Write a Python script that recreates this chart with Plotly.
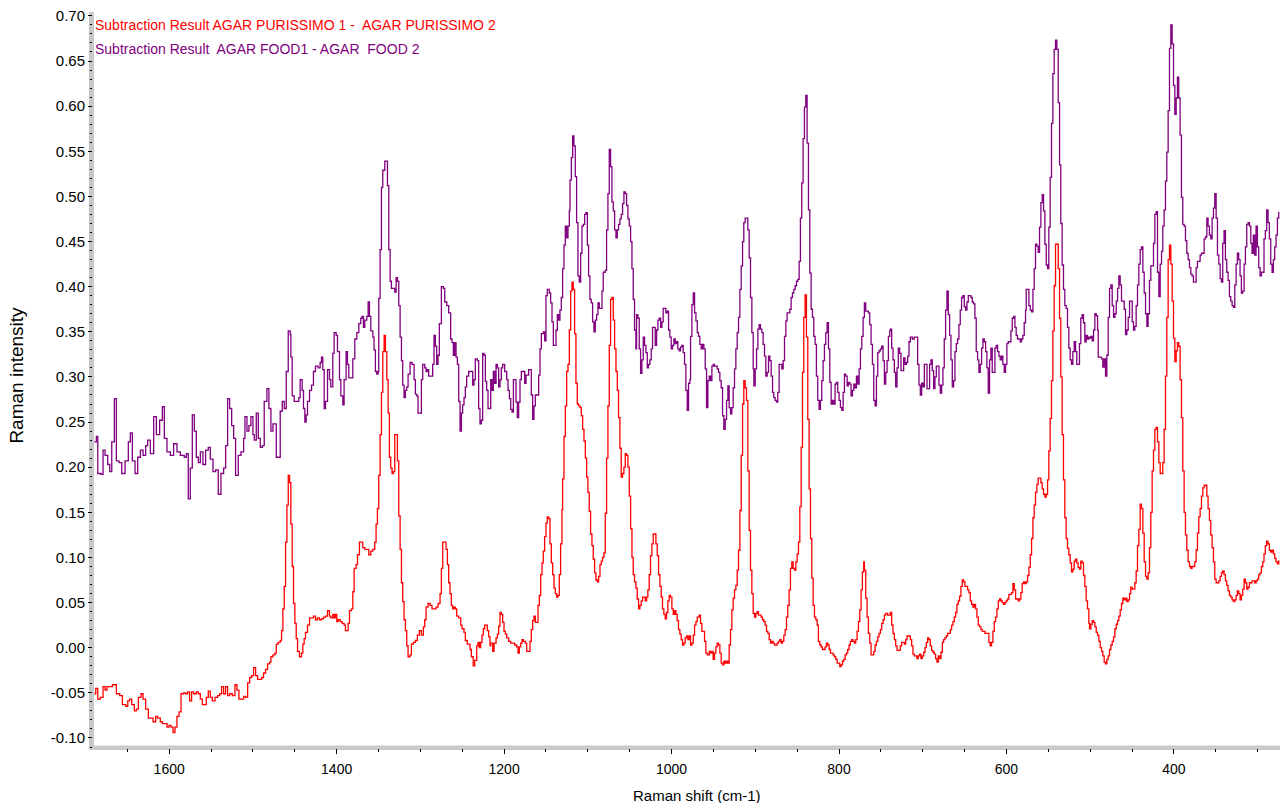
import plotly.graph_objects as go

# Subtraction spectra (Raman shift in cm-1, intensity)
purissimo_shift = [
    1689.3, 1687.7, 1685.3, 1682.2, 1679.0, 1676.6, 1674.2, 1671.0, 1667.8, 1665.5, 1663.1, 1659.1, 1655.9, 1651.9,
    1649.5, 1647.2, 1644.8, 1641.6, 1639.2, 1636.8, 1633.6, 1631.2, 1628.1, 1624.9, 1621.7, 1619.3, 1616.1, 1613.7,
    1610.6, 1608.2, 1605.0, 1602.6, 1600.2, 1597.8, 1595.4, 1593.1, 1590.7, 1588.3, 1585.9, 1582.7, 1580.3, 1577.9,
    1575.6, 1573.2, 1570.8, 1567.6, 1565.2, 1562.8, 1560.4, 1558.1, 1555.7, 1553.3, 1550.9, 1548.5, 1545.3, 1542.2,
    1539.8, 1537.4, 1535.0, 1532.6, 1530.2, 1527.8, 1524.6, 1521.5, 1519.1, 1516.7, 1513.5, 1511.1, 1508.7, 1506.3,
    1503.9, 1501.6, 1499.2, 1496.8, 1494.4, 1492.0, 1489.6, 1487.3, 1484.9, 1482.5, 1480.1, 1478.5, 1476.1, 1473.7,
    1472.1, 1469.7, 1467.4, 1465.8, 1464.2, 1462.6, 1461.0, 1459.4, 1457.8, 1456.2,
    1454.7, 1453.1, 1451.5, 1449.9, 1448.3, 1446.7, 1444.4, 1442.0, 1440.4, 1438.8, 1437.2, 1434.8, 1432.4, 1430.0,
    1427.7, 1425.3, 1422.9, 1420.5, 1418.1, 1415.7, 1413.3, 1410.9, 1408.6, 1407.0, 1404.6, 1403.0, 1401.4, 1399.8,
    1398.2, 1395.8, 1393.4, 1391.1, 1389.5, 1387.9, 1386.3, 1384.7, 1382.3, 1380.7, 1379.1, 1376.7, 1375.1, 1372.8,
    1370.4, 1368.8, 1366.4, 1364.0, 1361.6, 1359.2, 1356.8, 1354.5, 1352.9, 1351.3, 1349.7, 1348.1, 1346.5, 1344.9,
    1343.3, 1341.7, 1340.1, 1338.5, 1337.0, 1335.4, 1333.8, 1332.2, 1330.6, 1329.0, 1327.4, 1325.8, 1324.2, 1322.6,
    1321.1, 1319.5, 1317.9, 1316.3, 1314.7, 1312.3, 1310.7, 1308.3, 1305.9, 1303.6, 1301.2, 1298.8, 1296.4, 1294.8,
    1293.2, 1290.8, 1288.4, 1286.1, 1283.7, 1281.3, 1278.9, 1276.5, 1274.9, 1273.3, 1270.9, 1269.3, 1267.7, 1266.2,
    1264.6, 1263.0, 1261.4, 1259.8, 1258.2, 1256.6, 1254.2, 1251.8, 1250.2, 1247.9, 1246.3, 1243.9, 1241.5, 1240.7,
    1239.1, 1236.9, 1235.1, 1232.7, 1231.2, 1229.6, 1228.0, 1226.4, 1224.8, 1223.2, 1221.6, 1220.0, 1218.4, 1216.8,
    1216.0, 1213.6, 1212.0, 1209.6, 1208.0, 1206.5, 1204.9, 1203.3, 1201.7, 1200.1, 1198.5, 1196.9, 1194.5, 1192.1,
    1189.7, 1187.4, 1185.0, 1183.4, 1181.8, 1180.2, 1178.6, 1177.0, 1174.6, 1173.0, 1170.7, 1169.1, 1167.5, 1165.9,
    1164.3, 1162.7, 1161.1, 1159.5, 1157.9, 1156.3, 1154.7, 1153.2, 1151.6, 1150.0, 1148.4, 1146.8, 1145.2, 1143.6,
    1142.0, 1140.4, 1138.8, 1137.2, 1135.7, 1134.1, 1132.5, 1130.9, 1130.1, 1128.5, 1126.9, 1125.3, 1123.7, 1122.1,
    1120.5, 1118.9, 1117.4, 1115.8, 1114.2, 1112.6, 1111.0, 1109.4, 1107.8, 1106.2, 1104.6, 1103.0, 1101.4, 1099.9,
    1098.3, 1096.7, 1095.1, 1093.5, 1091.9, 1090.3, 1088.7, 1087.1, 1085.5, 1083.9, 1082.4, 1080.8, 1079.2, 1077.6,
    1076.0, 1074.4, 1072.8, 1071.2, 1069.6, 1068.0, 1066.4, 1064.8, 1063.3, 1061.7, 1060.1, 1058.5, 1056.9, 1055.3,
    1053.7, 1052.1, 1050.5, 1048.9, 1047.3, 1045.8, 1044.2, 1042.6, 1041.0, 1039.4, 1037.8, 1036.2, 1034.6, 1033.0,
    1031.4, 1029.8, 1028.3, 1026.7, 1025.1, 1023.5, 1021.9, 1020.3, 1018.7, 1017.1, 1015.5, 1013.9, 1012.3, 1010.8,
    1009.2, 1007.6, 1006.0, 1004.4, 1002.8, 1001.2, 999.6, 998.0, 996.4, 994.8, 993.3, 991.7, 990.1, 988.5,
    986.9, 985.3, 983.7, 982.1, 980.5, 978.9,
    977.3, 975.7, 974.1, 972.5, 970.9, 969.3, 967.0, 965.4, 963.8, 962.2, 960.6, 959.0, 957.4, 955.0,
    953.4, 951.8, 950.3, 948.7, 947.1, 945.5, 943.9, 942.3, 940.7, 939.1, 937.5, 935.9, 934.3, 932.7,
    931.2, 929.6, 928.0, 926.4, 924.8, 923.2, 921.6, 920.0, 918.4, 916.8, 915.2, 913.7, 912.1, 910.5,
    908.9, 907.3, 905.7, 904.1, 902.5, 900.9, 899.3, 897.7, 896.2, 894.6, 893.0, 891.4, 889.8, 888.2,
    886.6, 885.0, 883.4, 881.8, 880.2, 878.6, 877.1, 875.5, 873.9, 872.3, 870.7, 869.1, 867.5, 865.9,
    864.3, 862.7, 861.2, 859.6, 858.0, 856.4, 854.8, 853.2, 851.6, 850.0, 848.4, 846.8, 845.2, 843.6,
    842.1, 840.5, 839.7, 838.9, 837.3, 835.7, 834.1, 832.5, 830.9, 829.3, 827.7, 826.1, 824.6, 823.0,
    821.4, 819.8, 818.2, 816.6, 815.0, 813.4, 811.8, 810.2, 808.6, 807.1, 805.5, 803.9, 802.3, 800.7,
    799.1, 797.5, 795.9, 794.3, 792.7, 791.1, 789.6, 788.0, 786.4, 784.8, 783.2, 781.6, 780.0, 778.4,
    776.8, 775.2, 773.6, 772.1, 770.5, 769.7, 768.1, 766.5, 764.9, 763.3, 761.7, 760.1, 758.5, 756.9,
    755.3, 753.7, 752.2, 750.6, 749.0, 747.4, 745.8, 744.2, 742.6, 741.8,
    738.7, 737.1, 735.5, 733.9, 732.3, 730.7, 728.4, 726.8, 725.2, 723.6, 722.0, 720.4, 718.8, 716.4,
    714.8, 713.2, 711.7, 710.1, 708.5, 706.9, 705.3, 703.7, 702.1, 700.5, 698.9, 697.3, 695.7, 694.1,
    692.6, 691.0, 689.4, 687.8, 686.2, 684.6, 683.0, 681.4, 679.8, 678.2, 676.6, 675.1, 673.5, 671.9,
    670.3, 668.7, 667.1, 665.5, 663.9, 662.3, 660.7, 659.2, 657.6, 656.0, 654.4, 652.8, 651.2, 649.6,
    648.0, 646.4, 644.8, 643.2, 641.6, 640.1, 638.5, 636.9, 635.3, 633.7, 632.1, 630.5, 628.9, 627.3,
    625.7, 624.1, 622.5, 621.0, 619.4, 617.8, 616.2, 614.6, 613.0, 611.4, 609.8, 608.2, 606.6, 605.0,
    603.5, 601.9, 600.3, 598.7, 597.1, 595.5, 593.9, 592.3, 590.7, 589.1, 587.5, 586.0, 584.4, 582.8,
    581.2, 579.6, 578.0, 576.4, 574.8, 573.2, 571.6, 570.0, 568.4, 566.9, 565.3, 563.7, 562.1, 560.5,
    558.9, 557.3, 555.7, 554.1, 552.5, 550.9, 549.4, 547.8, 546.2, 544.6, 543.0, 541.4, 539.8, 538.2,
    536.6, 535.1, 533.5, 531.9, 530.3, 528.7, 527.1, 525.5, 523.9, 522.3, 520.7, 519.1, 517.5, 516.0,
    514.4, 512.8, 511.2, 509.6, 508.0, 506.4, 504.8, 503.2, 501.6,
    500.8, 499.2, 497.6, 496.0, 494.4, 492.8, 491.2, 489.6, 488.0, 486.4, 484.9, 483.3, 481.7, 480.1,
    478.5, 476.9, 475.3, 473.7, 472.1, 470.5, 468.9, 467.3, 465.8, 464.2, 462.6, 461.0, 459.4, 457.8,
    456.2, 454.6, 453.0, 451.5, 449.9, 448.3, 446.7, 445.1, 443.5, 441.9, 440.3, 438.7, 437.1, 435.5,
    433.9, 432.3, 430.8, 429.2, 427.6, 426.0, 424.4, 422.8, 421.2, 419.6, 418.0, 416.4, 414.8, 413.3,
    411.7, 410.1, 408.5, 406.9, 405.3, 403.7, 402.1, 400.5, 398.9, 397.3, 395.8, 394.2, 392.6, 391.0,
    389.4, 387.8, 386.2, 384.6, 383.0, 381.4, 379.8, 378.3, 376.7, 375.1, 373.5, 371.9, 370.3, 368.7,
    367.1, 365.5, 363.9, 362.3, 360.7, 359.2, 357.6, 356.0, 354.4, 352.8, 351.2, 349.6, 348.0, 346.4,
    344.8, 343.2, 341.7, 340.1, 338.5, 336.9, 335.3, 333.7, 332.1, 330.5, 328.9, 327.3, 325.7, 324.2,
    322.6, 321.0, 319.4, 317.8, 316.2, 314.6, 313.0, 311.4, 309.8, 308.2, 306.7, 305.1, 303.5, 301.9,
    300.3, 298.7, 297.1, 295.5, 293.9, 292.4, 290.8, 289.2, 287.6, 286.0, 284.4, 282.8, 281.2, 279.6,
    278.0, 276.4, 274.8,
]
purissimo_intensity = [
    -0.051, -0.045, -0.057, -0.055, -0.043, -0.047, -0.043, -0.043, -0.041, -0.041, -0.051, -0.053, -0.063, -0.065,
    -0.059, -0.057, -0.063, -0.070, -0.068, -0.055, -0.051, -0.057, -0.068, -0.078, -0.078, -0.082, -0.076, -0.078,
    -0.082, -0.084, -0.084, -0.088, -0.086, -0.088, -0.094, -0.088, -0.076, -0.071, -0.051, -0.050, -0.051, -0.049,
    -0.059, -0.049, -0.051, -0.049, -0.051, -0.057, -0.063, -0.063, -0.055, -0.048, -0.055, -0.059, -0.055, -0.053,
    -0.051, -0.043, -0.051, -0.043, -0.053, -0.051, -0.053, -0.041, -0.047, -0.057, -0.057, -0.054, -0.055, -0.039,
    -0.033, -0.031, -0.022, -0.031, -0.035, -0.035, -0.033, -0.028, -0.024, -0.018, -0.016, -0.010, -0.008, -0.006,
    0.004, 0.006, 0.008, 0.019, 0.043, 0.068, 0.117, 0.158, 0.191, 0.183,
    0.137, 0.090, 0.049, 0.027, 0.010, -0.004, -0.010, -0.006, 0.004, 0.010, 0.017, 0.025, 0.033, 0.033,
    0.035, 0.031, 0.033, 0.031, 0.032, 0.034, 0.035, 0.041, 0.035, 0.033, 0.037, 0.033, 0.037, 0.029,
    0.031, 0.029, 0.027, 0.025, 0.019, 0.019, 0.027, 0.041, 0.043, 0.062, 0.088, 0.092, 0.103, 0.117,
    0.117, 0.111, 0.109, 0.109, 0.103, 0.107, 0.109, 0.117, 0.137, 0.154, 0.191, 0.236, 0.283, 0.328,
    0.346, 0.328, 0.297, 0.260, 0.211, 0.199, 0.193, 0.195, 0.236, 0.236, 0.207, 0.146, 0.109, 0.072,
    0.051, 0.031, 0.019, 0.002, -0.010, -0.008, 0.004, 0.006, 0.008, 0.014, 0.019, 0.014, 0.023, 0.031,
    0.045, 0.049, 0.047, 0.043, 0.043, 0.045, 0.049, 0.060, 0.088, 0.117, 0.117, 0.109, 0.092, 0.072,
    0.060, 0.047, 0.043, 0.045, 0.043, 0.035, 0.033, 0.025, 0.021, 0.017, 0.008, 0.004, 0.004, -0.002,
    -0.010, -0.020, -0.014, 0.002, 0.006, 0.000, 0.006, 0.014, 0.021, 0.025, 0.025, 0.019, 0.012, 0.002,
    0.005, -0.004, 0.005, 0.011, 0.015, 0.024, 0.039, 0.037, 0.028, 0.018, 0.015, 0.011, 0.007, 0.005,
    0.005, 0.003, 0.001, -0.006, 0.001, 0.005, 0.009, 0.007, 0.005, -0.004, -0.004, 0.007, 0.020, 0.030,
    0.035, 0.028, 0.028, 0.047, 0.058, 0.081, 0.094, 0.107, 0.123, 0.138, 0.145, 0.143, 0.115, 0.094,
    0.081, 0.066, 0.060, 0.056, 0.058, 0.081, 0.115, 0.153, 0.187, 0.234, 0.268, 0.306, 0.314, 0.352,
    0.395, 0.405, 0.397, 0.348, 0.293, 0.270, 0.268, 0.266, 0.257, 0.242, 0.229, 0.210, 0.189, 0.172,
    0.151, 0.126, 0.113, 0.098, 0.083, 0.075, 0.073, 0.079, 0.092, 0.096, 0.100, 0.105, 0.149, 0.210,
    0.268, 0.335, 0.386, 0.388, 0.363, 0.331, 0.306, 0.285, 0.255, 0.221, 0.189, 0.193, 0.200, 0.215,
    0.213, 0.200, 0.168, 0.132, 0.100, 0.081, 0.073, 0.066, 0.054, 0.043, 0.047, 0.052, 0.056, 0.056,
    0.052, 0.056, 0.064, 0.081, 0.102, 0.115, 0.126, 0.126, 0.115, 0.102, 0.081, 0.068, 0.056, 0.043,
    0.037, 0.032, 0.039, 0.052, 0.058, 0.056, 0.043, 0.037, 0.041, 0.037, 0.030, 0.020, 0.015, 0.009,
    0.003, 0.005, 0.011, 0.013, 0.009, 0.013,
    0.003, 0.005, 0.014, 0.025, 0.029, 0.034, 0.036, 0.027, 0.018, 0.018, 0.007, -0.006, -0.008, -0.004,
    -0.006, -0.004, -0.013, -0.006, 0.001, 0.005, 0.003, -0.006, -0.017, -0.019, -0.015, -0.017, -0.015, -0.017,
    0.003, 0.020, 0.042, 0.055, 0.064, 0.069, 0.086, 0.108, 0.152, 0.213, 0.270, 0.296, 0.288, 0.274,
    0.196, 0.130, 0.086, 0.060, 0.038, 0.034, 0.038, 0.040, 0.036, 0.036, 0.034, 0.031, 0.029, 0.025,
    0.018, 0.016, 0.009, 0.005, 0.007, 0.005, 0.003, 0.003, 0.005, 0.007, 0.009, 0.005, 0.007, 0.014,
    0.020, 0.034, 0.047, 0.064, 0.088, 0.095, 0.088, 0.086, 0.095, 0.104, 0.117, 0.156, 0.222, 0.305,
    0.366, 0.391, 0.391, 0.344, 0.253, 0.176, 0.121, 0.077, 0.047, 0.034, 0.031, 0.025, 0.007, 0.003,
    0.001, -0.002, -0.002, 0.001, 0.005, 0.003, -0.002, -0.006, -0.006, -0.008, -0.010, -0.013, -0.017, -0.017,
    -0.021, -0.019, -0.015, -0.013, -0.008, -0.006, -0.002, 0.003, 0.007, 0.009, 0.007, 0.005, 0.009, 0.018,
    0.029, 0.042, 0.064, 0.084, 0.095, 0.086, 0.055, 0.034, 0.016, 0.005, -0.008, -0.008, -0.004, 0.003,
    0.007, 0.012, 0.016, 0.020, 0.027, 0.031, 0.036, 0.038, 0.038, 0.036,
    0.039, 0.025, 0.016, 0.009, 0.002, -0.003, -0.003, 0.002, 0.006, 0.006, 0.004, 0.009, 0.013, 0.013,
    0.009, 0.002, -0.007, -0.009, -0.009, -0.012, -0.009, -0.007, -0.012, -0.009, -0.005, 0.000, 0.006, 0.011,
    0.009, 0.002, -0.003, -0.005, -0.007, -0.012, -0.016, -0.009, -0.012, -0.005, 0.006, 0.009, 0.011, 0.013,
    0.016, 0.016, 0.020, 0.025, 0.029, 0.034, 0.039, 0.048, 0.052, 0.057, 0.068, 0.075, 0.073, 0.068,
    0.068, 0.064, 0.061, 0.052, 0.048, 0.045, 0.048, 0.043, 0.034, 0.025, 0.023, 0.020, 0.018, 0.018,
    0.016, 0.016, 0.016, 0.006, 0.002, 0.006, 0.018, 0.029, 0.034, 0.043, 0.052, 0.054, 0.052, 0.050,
    0.048, 0.050, 0.052, 0.054, 0.059, 0.059, 0.061, 0.071, 0.064, 0.054, 0.054, 0.052, 0.054, 0.061,
    0.071, 0.073, 0.071, 0.073, 0.080, 0.089, 0.103, 0.121, 0.144, 0.158, 0.172, 0.181, 0.188, 0.188,
    0.183, 0.176, 0.170, 0.167, 0.170, 0.186, 0.218, 0.254, 0.296, 0.351, 0.401, 0.447, 0.447, 0.420,
    0.365, 0.300, 0.236, 0.186, 0.144, 0.121, 0.110, 0.103, 0.094, 0.084, 0.087, 0.096, 0.098, 0.094,
    0.089, 0.087, 0.096, 0.094, 0.080, 0.068, 0.052, 0.043, 0.027,
    0.021, 0.026, 0.030, 0.028, 0.023, 0.017, 0.014, 0.007, 0.000, -0.004, -0.009, -0.016, -0.018, -0.013,
    -0.009, -0.002, 0.003, 0.007, 0.012, 0.021, 0.026, 0.030, 0.035, 0.042, 0.049, 0.055, 0.053, 0.055,
    0.051, 0.053, 0.060, 0.067, 0.065, 0.065, 0.072, 0.085, 0.113, 0.131, 0.159, 0.154, 0.127, 0.095,
    0.079, 0.076, 0.083, 0.111, 0.150, 0.196, 0.219, 0.242, 0.244, 0.228, 0.205, 0.193, 0.193, 0.205,
    0.242, 0.301, 0.366, 0.430, 0.446, 0.425, 0.384, 0.343, 0.317, 0.329, 0.338, 0.334, 0.297, 0.255,
    0.196, 0.150, 0.125, 0.108, 0.095, 0.090, 0.088, 0.090, 0.090, 0.095, 0.108, 0.127, 0.145, 0.154,
    0.168, 0.177, 0.180, 0.180, 0.168, 0.154, 0.141, 0.125, 0.111, 0.095, 0.076, 0.072, 0.072, 0.074,
    0.079, 0.083, 0.085, 0.081, 0.074, 0.069, 0.063, 0.058, 0.056, 0.053, 0.051, 0.053, 0.058, 0.063,
    0.060, 0.053, 0.058, 0.065, 0.076, 0.072, 0.065, 0.067, 0.072, 0.072, 0.074, 0.074, 0.072, 0.074,
    0.076, 0.081, 0.083, 0.090, 0.095, 0.104, 0.113, 0.118, 0.115, 0.108, 0.106, 0.108, 0.104, 0.099,
    0.095, 0.093, 0.097,
]

food_shift = [
    1689.3, 1687.0, 1685.3, 1681.4, 1679.0, 1676.6, 1673.4, 1671.0, 1668.6, 1665.5, 1663.1, 1659.9, 1656.7, 1652.7,
    1648.8, 1646.4, 1644.0, 1640.8, 1637.6, 1634.4, 1631.2, 1628.1, 1625.7, 1622.5, 1620.1, 1618.5, 1615.3, 1611.4,
    1608.2, 1605.8, 1602.6, 1598.6, 1594.7, 1590.7, 1586.7, 1582.0, 1579.5, 1577.2, 1574.8, 1572.4, 1570.0, 1567.6,
    1565.2, 1562.8, 1559.7, 1556.5, 1553.3, 1550.9, 1547.7, 1544.5, 1541.4, 1538.2, 1535.0, 1532.6, 1530.2, 1527.8,
    1525.4, 1523.0, 1520.7, 1517.5, 1514.3, 1511.1, 1509.5, 1507.1, 1504.8, 1502.4, 1500.0, 1498.4, 1496.0, 1493.6,
    1491.2, 1488.8, 1486.5, 1483.3, 1480.9, 1478.5, 1476.1, 1472.1, 1469.7, 1467.4, 1465.0, 1462.6, 1460.2, 1457.8,
    1455.4,
    1454.7, 1453.1, 1450.7, 1446.7, 1445.2, 1443.6, 1441.2, 1439.6, 1438.0, 1436.4, 1434.8, 1432.4, 1430.0, 1427.7,
    1425.3, 1422.1, 1419.7, 1418.1, 1416.5, 1414.9, 1413.3, 1410.9, 1408.6, 1407.0, 1404.6, 1403.0, 1400.6, 1399.0,
    1396.6, 1395.0, 1392.6, 1391.1, 1388.7, 1387.1, 1385.5, 1382.3, 1380.7, 1378.3, 1375.9, 1373.5, 1371.2, 1369.6,
    1368.0, 1366.4, 1364.0, 1362.4, 1360.8, 1359.2, 1356.8, 1355.3, 1353.7, 1352.1, 1350.5, 1349.7, 1348.1, 1346.5,
    1344.9, 1342.5, 1340.9, 1339.3, 1337.7, 1336.1, 1334.6, 1332.2, 1330.6, 1329.0, 1327.4, 1325.8, 1324.2, 1322.6,
    1321.1, 1319.5, 1317.9, 1316.3, 1314.7, 1312.3, 1309.9, 1307.5, 1306.0, 1304.4, 1302.8, 1300.4, 1298.8, 1297.2,
    1294.8, 1293.2, 1291.6, 1290.1, 1287.7, 1285.3, 1283.7, 1282.1, 1280.5, 1278.9, 1277.3, 1274.9, 1272.5, 1270.9,
    1268.5, 1266.2, 1263.8, 1262.2, 1260.6, 1259.0, 1257.4, 1255.8, 1254.2, 1252.6, 1251.0, 1249.5, 1247.9, 1246.3,
    1244.7, 1242.3, 1239.9, 1237.5, 1236.0, 1234.4, 1232.0, 1230.4, 1228.8, 1227.2, 1225.6, 1224.0, 1222.4, 1220.8,
    1219.2, 1217.6,
    1216.0, 1214.4, 1212.8, 1211.2, 1209.6, 1208.0, 1206.5, 1204.9, 1203.3, 1201.7, 1199.3, 1196.9, 1195.3, 1193.7,
    1192.1, 1190.5, 1188.9, 1187.4, 1185.8, 1184.2, 1182.6, 1181.0, 1179.4, 1177.0, 1175.4, 1173.8, 1172.2, 1170.7,
    1169.1, 1167.5, 1165.9, 1164.3, 1162.7, 1160.3, 1158.7, 1157.1, 1155.5, 1153.2, 1151.6, 1150.0, 1148.4, 1146.0,
    1144.4, 1142.8, 1141.2, 1139.6, 1138.0, 1136.4, 1134.9, 1133.3, 1131.7, 1130.1, 1128.5, 1126.9, 1125.3, 1123.7,
    1122.1, 1121.3, 1119.7, 1118.1, 1116.6, 1115.0, 1113.4, 1111.8, 1110.2, 1108.6, 1107.0, 1105.4, 1103.8, 1102.2,
    1100.6, 1099.1, 1097.5, 1095.9, 1094.3, 1092.7, 1091.1, 1089.5, 1087.9, 1086.3, 1084.7, 1083.1, 1081.6, 1079.2,
    1077.6, 1076.0, 1074.4, 1072.8, 1071.2, 1069.6, 1068.0, 1066.4, 1064.8, 1063.3, 1061.7, 1060.1, 1058.5, 1056.9,
    1055.3, 1053.7, 1052.1, 1050.5, 1048.9, 1047.3, 1045.8, 1044.2, 1042.6, 1041.8, 1040.2, 1038.6, 1037.0, 1035.4,
    1033.8, 1032.2, 1030.6, 1029.0, 1027.5, 1025.9, 1024.3, 1022.7, 1021.1, 1019.5, 1017.9, 1016.3, 1014.7, 1013.1,
    1011.5, 1010.0, 1008.4, 1006.8, 1005.2, 1003.6, 1002.0, 1000.4, 998.8, 997.2, 995.6, 994.0, 992.5, 990.9,
    989.3, 987.7, 986.1, 984.5, 982.9, 981.3, 979.7, 978.1,
    977.3, 975.7, 974.1, 972.5, 970.9, 969.3, 967.8, 966.2, 964.6, 963.0, 961.4, 959.8, 958.2, 956.6,
    955.0, 953.4, 951.8, 950.3, 948.7, 947.1, 945.5, 943.9, 942.3, 940.7, 939.1, 937.5, 935.9, 934.3,
    932.7, 931.2, 929.6, 928.0, 926.4, 924.8, 923.2, 921.6, 920.0, 918.4, 916.8, 915.2, 913.7, 912.1,
    910.5, 908.9, 907.3, 905.7, 904.1, 902.5, 901.7, 900.1, 898.5, 896.9, 895.4, 893.8, 892.2, 890.6,
    889.0, 887.4, 885.8, 884.2, 882.6, 881.0, 879.4, 877.9, 876.3, 874.7, 873.1, 871.5, 869.9, 868.3,
    866.7, 865.1, 863.5, 862.0, 860.4, 858.8, 857.2, 855.6, 854.0, 852.4, 850.8, 849.2, 847.6, 846.1,
    844.5, 842.9, 841.3, 839.7, 838.1, 836.5, 834.9, 833.3, 831.7, 830.1, 828.5, 827.0, 825.4, 823.8,
    822.2, 820.6, 819.0, 817.4, 815.8, 814.2, 812.6, 811.0, 809.4, 807.8, 806.2, 804.7, 803.1, 801.5,
    799.9, 798.3, 796.7, 795.1, 793.5, 791.9, 790.3, 788.8, 787.2, 785.6, 784.0, 782.4, 780.8, 779.2,
    777.6, 776.0, 774.4, 772.8, 771.2, 769.7, 768.1, 766.5, 764.9, 763.3, 761.7, 760.1, 758.5, 756.9,
    755.3, 753.7, 752.2, 750.6, 749.0, 747.4, 745.8, 744.2, 742.6, 741.0, 739.4,
    738.7, 737.1, 735.5, 733.9, 732.3, 730.7, 729.2, 727.6, 726.0, 724.4, 722.8, 721.2, 719.6, 718.0,
    716.4, 714.8, 712.4, 710.1, 708.0, 706.1, 704.5, 702.9, 701.3, 699.7, 698.1, 696.5, 694.9, 693.3,
    691.8, 690.2, 688.6, 687.0, 685.4, 683.8, 682.2, 680.6, 679.0, 677.4, 675.9, 674.3, 672.7, 671.1,
    669.5, 667.9, 666.3, 664.7, 663.1, 661.5, 659.9, 658.4, 656.8, 655.2, 653.6, 652.0, 650.4, 648.8,
    647.2, 645.6, 644.0, 642.4, 640.8, 639.3, 637.7, 636.1, 634.5, 632.9, 631.3, 629.7, 628.1, 626.5,
    624.9, 623.4, 621.8, 620.2, 618.6, 617.0, 615.4, 613.8, 612.2, 610.6, 609.0, 607.5, 605.9, 604.3,
    602.7, 601.1, 599.5, 597.9, 596.3, 594.7, 593.1, 591.5, 589.9, 588.4, 586.8, 585.2, 583.6, 582.0,
    580.4, 578.8, 577.2, 576.4, 574.8, 573.2, 571.6, 570.0, 568.4, 566.9, 565.3, 563.7, 562.1, 560.5,
    558.9, 557.3, 555.7, 554.1, 552.5, 550.9, 549.4, 547.8, 546.2, 544.6, 543.0, 541.4, 539.8, 538.2,
    536.6, 535.1, 533.5, 531.9, 530.3, 528.7, 527.1, 525.5, 523.9, 522.3, 520.7, 519.1, 517.5, 516.0,
    514.4, 512.8, 511.2, 509.6, 508.0, 506.4, 504.8, 503.2, 501.6,
    500.8, 499.2, 497.6, 496.0, 494.4, 492.8, 491.2, 490.4, 488.8, 486.4, 484.9, 483.3, 481.7, 480.1,
    478.5, 476.9, 475.3, 473.7, 472.1, 470.5, 468.9, 467.3, 465.8, 464.2, 462.6, 461.0, 459.4, 457.8,
    456.2, 454.6, 453.0, 451.5, 449.8, 448.3, 446.7, 445.1, 443.5, 441.9, 440.3, 438.7, 437.1, 435.5,
    433.9, 432.3, 430.8, 429.2, 427.6, 426.0, 424.4, 422.8, 421.2, 419.6, 418.0, 416.4, 414.8, 413.3,
    411.7, 410.1, 408.5, 406.9, 405.3, 403.7, 402.1, 400.5, 398.9, 397.3, 395.8, 394.2, 392.6, 391.0,
    389.4, 387.8, 386.2, 384.6, 383.0, 381.4, 379.8, 378.3, 376.7, 375.1, 373.5, 371.9, 370.3, 368.7,
    367.1, 365.5, 363.9, 362.3, 360.7, 359.2, 357.6, 356.0, 354.4, 352.8, 351.2, 349.6, 348.0, 346.4,
    344.8, 343.2, 341.7, 340.1, 338.5, 336.9, 335.3, 333.7, 332.1, 330.5, 328.9, 327.3, 325.7, 324.2,
    322.6, 321.0, 319.4, 317.8, 316.2, 314.6, 313.0, 311.4, 309.8, 308.2, 306.7, 305.1, 303.5, 301.9,
    300.3, 298.7, 297.1, 295.5, 293.9, 292.4, 290.8, 289.2, 287.6, 286.0, 284.4, 282.8, 281.2, 279.6,
    278.0, 276.4, 274.8,
]
food_intensity = [
    0.228, 0.234, 0.193, 0.192, 0.219, 0.213, 0.203, 0.195, 0.228, 0.276, 0.207, 0.205, 0.193, 0.207,
    0.228, 0.238, 0.207, 0.193, 0.211, 0.219, 0.213, 0.224, 0.230, 0.215, 0.215, 0.256, 0.236, 0.252,
    0.267, 0.232, 0.217, 0.213, 0.226, 0.217, 0.213, 0.211, 0.215, 0.165, 0.199, 0.258, 0.240, 0.211,
    0.205, 0.217, 0.203, 0.219, 0.222, 0.209, 0.195, 0.197, 0.170, 0.193, 0.199, 0.224, 0.276, 0.265,
    0.246, 0.232, 0.191, 0.213, 0.217, 0.232, 0.256, 0.240, 0.246, 0.256, 0.236, 0.230, 0.260, 0.232,
    0.222, 0.224, 0.273, 0.287, 0.265, 0.240, 0.248, 0.211, 0.211, 0.262, 0.273, 0.265, 0.306, 0.351,
    0.347,
    0.322, 0.279, 0.273, 0.273, 0.277, 0.297, 0.285, 0.265, 0.250, 0.258, 0.273, 0.285, 0.291, 0.306,
    0.312, 0.310, 0.316, 0.322, 0.308, 0.265, 0.273, 0.308, 0.297, 0.289, 0.326, 0.349, 0.346, 0.328,
    0.297, 0.279, 0.269, 0.297, 0.328, 0.314, 0.299, 0.299, 0.320, 0.342, 0.349, 0.359, 0.365, 0.367,
    0.355, 0.363, 0.367, 0.383, 0.367, 0.351, 0.344, 0.330, 0.306, 0.303, 0.306, 0.387, 0.441, 0.510,
    0.529, 0.539, 0.539, 0.512, 0.441, 0.406, 0.398, 0.398, 0.394, 0.410, 0.406, 0.379, 0.344, 0.318,
    0.291, 0.277, 0.285, 0.289, 0.303, 0.316, 0.314, 0.297, 0.281, 0.279, 0.260, 0.260, 0.297, 0.314,
    0.310, 0.306, 0.308, 0.301, 0.301, 0.314, 0.346, 0.334, 0.314, 0.324, 0.359, 0.400, 0.398, 0.383,
    0.379, 0.371, 0.342, 0.338, 0.324, 0.338, 0.322, 0.314, 0.273, 0.240, 0.260, 0.269, 0.277, 0.289,
    0.301, 0.306, 0.306, 0.291, 0.297, 0.320, 0.318, 0.265, 0.248, 0.252, 0.326, 0.324, 0.295, 0.285,
    0.265, 0.265,
    0.297, 0.285, 0.306, 0.293, 0.314, 0.310, 0.289, 0.297, 0.310, 0.314, 0.306, 0.297, 0.285, 0.276,
    0.264, 0.261, 0.297, 0.297, 0.272, 0.255, 0.272, 0.297, 0.306, 0.306, 0.293, 0.302, 0.302, 0.308,
    0.308, 0.280, 0.253, 0.268, 0.280, 0.280, 0.302, 0.331, 0.348, 0.350, 0.340, 0.390, 0.397, 0.393,
    0.382, 0.361, 0.335, 0.335, 0.352, 0.369, 0.363, 0.374, 0.388, 0.420, 0.446, 0.467, 0.454, 0.467,
    0.484, 0.518, 0.543, 0.567, 0.556, 0.522, 0.471, 0.412, 0.405, 0.437, 0.467, 0.469, 0.480, 0.482,
    0.446, 0.412, 0.386, 0.382, 0.361, 0.350, 0.363, 0.369, 0.382, 0.376, 0.376, 0.395, 0.416, 0.418,
    0.463, 0.503, 0.552, 0.533, 0.494, 0.484, 0.463, 0.454, 0.463, 0.469, 0.475, 0.480, 0.492, 0.505,
    0.503, 0.490, 0.475, 0.467, 0.450, 0.420, 0.386, 0.352, 0.331, 0.369, 0.365, 0.331, 0.304, 0.319,
    0.344, 0.335, 0.327, 0.310, 0.314, 0.319, 0.331, 0.355, 0.355, 0.335, 0.352, 0.363, 0.365, 0.355,
    0.361, 0.376, 0.376, 0.371, 0.373, 0.352, 0.344, 0.331, 0.335, 0.342, 0.337, 0.339, 0.331, 0.329,
    0.333, 0.335, 0.327, 0.314, 0.285, 0.263, 0.293, 0.297,
    0.345, 0.380, 0.393, 0.371, 0.362, 0.349, 0.345, 0.336, 0.331, 0.336, 0.331, 0.309, 0.266, 0.296,
    0.301, 0.296, 0.312, 0.314, 0.312, 0.312, 0.309, 0.305, 0.296, 0.288, 0.257, 0.242, 0.253, 0.274,
    0.290, 0.266, 0.259, 0.266, 0.288, 0.309, 0.331, 0.349, 0.366, 0.397, 0.423, 0.450, 0.471, 0.476,
    0.476, 0.463, 0.432, 0.388, 0.349, 0.309, 0.290, 0.309, 0.331, 0.353, 0.358, 0.353, 0.349, 0.336,
    0.323, 0.301, 0.305, 0.323, 0.318, 0.301, 0.283, 0.277, 0.274, 0.272, 0.283, 0.314, 0.314, 0.309,
    0.318, 0.345, 0.362, 0.371, 0.371, 0.375, 0.388, 0.393, 0.397, 0.401, 0.406, 0.408, 0.428, 0.476,
    0.515, 0.564, 0.599, 0.612, 0.559, 0.485, 0.415, 0.375, 0.366, 0.345, 0.336, 0.301, 0.274, 0.264,
    0.274, 0.296, 0.318, 0.336, 0.349, 0.360, 0.331, 0.294, 0.270, 0.274, 0.270, 0.292, 0.294, 0.283,
    0.274, 0.266, 0.263, 0.283, 0.303, 0.301, 0.290, 0.294, 0.292, 0.279, 0.285, 0.292, 0.288, 0.301,
    0.292, 0.309, 0.331, 0.345, 0.366, 0.382, 0.373, 0.373, 0.371, 0.358, 0.336, 0.314, 0.274, 0.268,
    0.301, 0.327, 0.329, 0.331, 0.334, 0.318, 0.292, 0.305, 0.318, 0.345, 0.351,
    0.353, 0.332, 0.319, 0.305, 0.289, 0.310, 0.332, 0.326, 0.307, 0.307, 0.321, 0.314, 0.316, 0.323,
    0.339, 0.344, 0.342, 0.344, 0.344, 0.314, 0.291, 0.280, 0.293, 0.289, 0.314, 0.314, 0.287, 0.287,
    0.314, 0.319, 0.307, 0.287, 0.300, 0.312, 0.312, 0.291, 0.282, 0.291, 0.310, 0.342, 0.374, 0.395,
    0.369, 0.346, 0.319, 0.289, 0.296, 0.328, 0.337, 0.342, 0.358, 0.374, 0.388, 0.390, 0.378, 0.374,
    0.383, 0.390, 0.390, 0.388, 0.383, 0.381, 0.365, 0.328, 0.319, 0.305, 0.314, 0.332, 0.342, 0.339,
    0.328, 0.310, 0.282, 0.319, 0.332, 0.305, 0.305, 0.332, 0.335, 0.328, 0.323, 0.319, 0.323, 0.314,
    0.305, 0.314, 0.337, 0.339, 0.339, 0.351, 0.365, 0.367, 0.355, 0.346, 0.342, 0.342, 0.339, 0.342,
    0.346, 0.360, 0.374, 0.397, 0.397, 0.379, 0.374, 0.372, 0.397, 0.420, 0.447, 0.445, 0.438, 0.466,
    0.493, 0.502, 0.484, 0.447, 0.424, 0.420, 0.466, 0.521, 0.581, 0.636, 0.663, 0.673, 0.663, 0.604,
    0.535, 0.470, 0.424, 0.397, 0.379, 0.376, 0.355, 0.332, 0.319, 0.314, 0.328, 0.339, 0.328, 0.314,
    0.314, 0.337, 0.365, 0.369, 0.360, 0.339, 0.346, 0.342, 0.344,
    0.343, 0.345, 0.340, 0.352, 0.370, 0.368, 0.352, 0.322, 0.322, 0.320, 0.311, 0.320, 0.301, 0.324,
    0.366, 0.398, 0.402, 0.379, 0.366, 0.370, 0.384, 0.398, 0.412, 0.402, 0.384, 0.384, 0.375, 0.347,
    0.352, 0.366, 0.384, 0.384, 0.361, 0.352, 0.356, 0.379, 0.402, 0.425, 0.441, 0.444, 0.416, 0.393,
    0.370, 0.356, 0.370, 0.407, 0.423, 0.423, 0.448, 0.480, 0.483, 0.416, 0.389, 0.425, 0.439, 0.467,
    0.485, 0.517, 0.549, 0.595, 0.664, 0.690, 0.669, 0.623, 0.591, 0.609, 0.632, 0.609, 0.568, 0.499,
    0.469, 0.467, 0.451, 0.437, 0.430, 0.421, 0.414, 0.412, 0.405, 0.405, 0.421, 0.428, 0.428, 0.435,
    0.437, 0.437, 0.453, 0.455, 0.476, 0.467, 0.457, 0.453, 0.476, 0.487, 0.503, 0.476, 0.435, 0.425,
    0.409, 0.405, 0.448, 0.462, 0.430, 0.416, 0.407, 0.389, 0.384, 0.379, 0.377, 0.402, 0.425, 0.437,
    0.430, 0.412, 0.393, 0.395, 0.425, 0.444, 0.469, 0.471, 0.467, 0.448, 0.437, 0.457, 0.435, 0.467,
    0.444, 0.421, 0.412, 0.416, 0.416, 0.453, 0.462, 0.485, 0.471, 0.453, 0.425, 0.416, 0.430, 0.444,
    0.457, 0.476, 0.483,
]

series_names = [
    "Subtraction Result AGAR PURISSIMO 1 -  AGAR PURISSIMO 2",
    "Subtraction Result  AGAR FOOD1 - AGAR  FOOD 2",
]
series_colors = ["#ff0000", "#800080"]

x_tick_values = [1600, 1400, 1200, 1000, 800, 600, 400]
x_tick_labels = ["1600", "1400", "1200", "1000", "800", "600", "400"]
y_tick_values = [0.70, 0.65, 0.60, 0.55, 0.50, 0.45, 0.40, 0.35, 0.30, 0.25, 0.20, 0.15, 0.10, 0.05, 0.00, -0.05, -0.10]
y_tick_labels = ["0.70", "0.65", "0.60", "0.55", "0.50", "0.45", "0.40", "0.35", "0.30", "0.25", "0.20",
                 "0.15", "0.10", "0.05", "0.00", "-0.05", "-0.10"]

FONT = "Liberation Sans, Arial, sans-serif"
AXIS_GREY = "#c8c8c8"

fig = go.Figure()
for xs, ys, name, color in [
    (purissimo_shift, purissimo_intensity, series_names[0], series_colors[0]),
    (food_shift, food_intensity, series_names[1], series_colors[1]),
]:
    fig.add_trace(go.Scatter(
        x=xs, y=ys, mode="lines", name=name,
        line=dict(color=color, width=1.3, shape="hv"),
        showlegend=False,
    ))

# series captions in the top-left corner of the plot area
for i, (name, color) in enumerate(zip(series_names, series_colors)):
    fig.add_annotation(
        xref="paper", yref="paper", x=0.0, y=0.9823 - 0.0326 * i,
        xanchor="left", yanchor="middle", showarrow=False,
        text=name, font=dict(family=FONT, size=14, color=color),
    )

# axis titles
fig.add_annotation(
    xref="paper", yref="paper", x=0.5088, y=-0.064, xanchor="center", yanchor="middle",
    showarrow=False, text="Raman shift (cm-1)", font=dict(family=FONT, size=15, color="black"),
)
fig.add_annotation(
    xref="paper", yref="paper", x=-0.064, y=0.506, xanchor="center", yanchor="middle",
    showarrow=False, text="Raman intensity", textangle=-90,
    font=dict(family=FONT, size=19, color="black"),
)

# thick grey axis bars along the left and bottom edges
fig.add_shape(type="rect", xref="paper", yref="paper", x0=-0.0034, x1=0.0008, y0=-0.0027, y1=1.0,
              fillcolor=AXIS_GREY, line=dict(width=0), layer="below")
fig.add_shape(type="rect", xref="paper", yref="paper", x0=-0.0034, x1=1.0, y0=-0.0027, y1=0.0034,
              fillcolor=AXIS_GREY, line=dict(width=0), layer="below")

axis_common = dict(
    showgrid=False, zeroline=False, showline=False,
    ticks="outside", tickwidth=1, tickcolor="black",
)

fig.update_xaxes(
    range=[1691, 273.3], tickmode="array", tickvals=x_tick_values, ticktext=x_tick_labels, ticklen=5,
    ticklabelstandoff=3, tickfont=dict(family=FONT, size=14, color="black"),
    minor=dict(ticks="outside", ticklen=3, tickwidth=1, tickcolor="black", tickmode="linear", tick0=0, dtick=50,
               showgrid=False),
    **axis_common,
)
fig.update_yaxes(
    range=[-0.1111, 0.7043], tickmode="array", tickvals=y_tick_values, ticktext=y_tick_labels, ticklen=4,
    tickfont=dict(family=FONT, size=15, color="black"),
    minor=dict(ticks="outside", ticklen=2, tickwidth=1, tickcolor="black", tickmode="linear", tick0=0, dtick=0.01,
               showgrid=False),
    **axis_common,
)

fig.update_layout(
    width=1280, height=803,
    margin=dict(l=93, r=0, t=12, b=55),
    paper_bgcolor="white", plot_bgcolor="white",
    font=dict(family=FONT, color="black"),
)

fig.write_html("out.html")
